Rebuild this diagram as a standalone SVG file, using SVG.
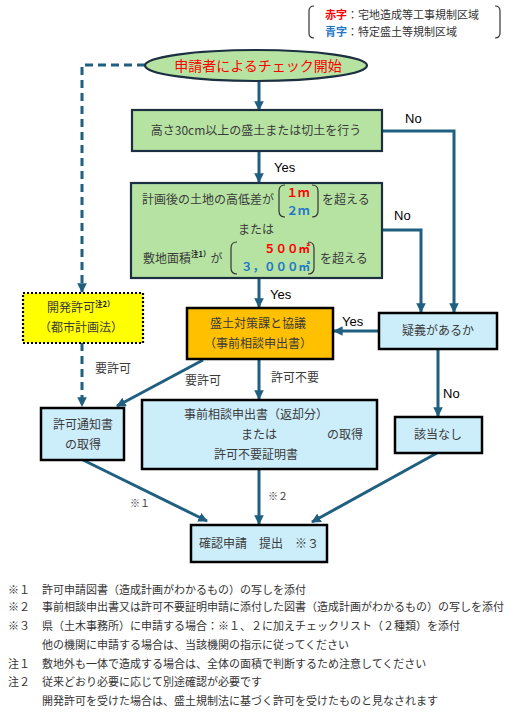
<svg xmlns="http://www.w3.org/2000/svg" width="522" height="717" viewBox="0 0 522 717">
<defs>
<marker id="ah" viewBox="0 0 10 10" refX="9" refY="5" markerWidth="3.2" markerHeight="3.2" orient="auto" markerUnits="strokeWidth">
<path d="M0,0 L10,5 L0,10 Z" fill="#1F5F80"/>
</marker>
<style>
text{font-family:"Noto Sans CJK JP","Noto Sans",sans-serif;fill:#3a3a3a;font-size:12px}
.lat{font-family:"Liberation Sans",Arial,sans-serif;fill:#000;font-size:13px}
.c{text-anchor:middle}
.e{text-anchor:end}
.red{fill:#FF0000}
.blue{fill:#1F77C8}
.b{font-weight:bold}
.sup{font-size:7.5px;font-weight:bold;fill:#222}
.fn{font-size:11px;fill:#333}
.leg{font-size:11px;fill:#333}
.num{font-size:11.5px;font-weight:bold}
.ttl{font-size:14px}
.sm{font-size:10px}
.green{fill:#B6E3A2;stroke:#1B2F40;stroke-width:2.2}
.lb{fill:#CCEEFB;stroke:#000;stroke-width:2.5}
.ln{fill:none;stroke:#1F5F80;stroke-width:3}
.ar{marker-end:url(#ah)}
.dash{stroke-dasharray:8,5}
.br{fill:none;stroke:#333;stroke-width:1.2}
</style>
</defs>
<rect width="522" height="717" fill="#fff"/>

<g id="legend">
<path class="br" d="M314,6 Q309,6 309,11 L309,33 Q309,38 314,38"/>
<path class="br" d="M495,6 Q500,6 500,11 L500,33 Q500,38 495,38"/>
<text class="leg" x="325" y="19"><tspan class="red b">赤字</tspan>：宅地造成等工事規制区域</text>
<text class="leg" x="325" y="36"><tspan class="blue b">青字</tspan>：特定盛土等規制区域</text>
</g>

<g id="connectors">
<path class="ln dash ar" d="M145,65 L82,65 L82,292"/>
<path class="ln ar" d="M259,81 L259,110"/>
<path class="ln ar" d="M382,131 L454,131 L454,312"/>
<path class="ln ar" d="M259,151 L259,182"/>
<path class="ln ar" d="M382,230 L421,230 L421,312"/>
<path class="ln ar" d="M259,278 L259,307"/>
<path class="ln ar" d="M379,331 L334,331"/>
<path class="ln ar" d="M438,349 L438,416"/>
<path class="ln dash ar" d="M82,343 L82,406"/>
<path class="ln ar" d="M203,360 L117,406"/>
<path class="ln ar" d="M259,359 L259,399"/>
<path class="ln ar" d="M83,460 L207,521"/>
<path class="ln ar" d="M259,469 L259,524"/>
<path class="ln ar" d="M437,453 L312,522"/>
<text class="lat" x="405" y="123">No</text>
<text class="lat" x="274" y="172">Yes</text>
<text class="lat" x="394" y="220">No</text>
<text class="lat" x="270" y="299">Yes</text>
<text class="lat" x="342" y="326">Yes</text>
<text class="lat" x="443" y="398">No</text>
<text x="95" y="373">要許可</text>
<text x="185" y="385">要許可</text>
<text x="271" y="382">許可不要</text>
<text class="sm" x="130" y="507">※１</text>
<text class="sm" x="268" y="500">※２</text>
</g>

<g id="start">
<ellipse cx="256" cy="65.5" rx="111" ry="15.5" class="green" stroke-width="1.8"/>
<text class="c red ttl" x="258" y="70.5">申請者によるチェック開始</text>
</g>

<g id="q1">
<rect x="132" y="110" width="250" height="41" class="green"/>
<text class="c" x="256" y="135">高さ30cm以上の盛土または切土を行う</text>
</g>

<g id="q2">
<rect x="131" y="183" width="251" height="95" class="green"/>
<text x="142" y="204">計画後の土地の高低差が</text>
<path class="br" d="M285,185 Q279,185 279,191 L279,211 Q279,217 285,217"/>
<text class="c red num" x="298" y="197">１ｍ</text>
<text class="c blue num" x="298" y="215">２ｍ</text>
<path class="br" d="M312,185 Q318,185 318,191 L318,211 Q318,217 312,217"/>
<text x="322" y="204">を超える</text>
<text class="c" x="256" y="234">または</text>
<text x="143" y="263">敷地面積<tspan class="sup" dy="-6">注1）</tspan><tspan dy="6">が</tspan></text>
<path class="br" d="M237,242 Q231,242 231,248 L231,268 Q231,274 237,274"/>
<text class="e red num" x="310" y="253">５００㎡</text>
<text class="e blue num" x="310" y="271">３，０００㎡</text>
<path class="br" d="M308,242 Q314,242 314,248 L314,268 Q314,274 308,274"/>
<text x="320" y="263">を超える</text>
</g>

<g id="kaihatsu">
<rect x="23" y="293" width="120" height="50" fill="#FFFF00" stroke="#000" stroke-width="2.2" stroke-dasharray="2,2"/>
<text x="47" y="312" fill="#555">開発許可<tspan class="sup" dy="-5">注2）</tspan></text>
<text class="c" x="81" y="332" fill="#555">（都市計画法）</text>
</g>

<g id="kyougi">
<rect x="187" y="308" width="146" height="51" fill="#FFC000" stroke="#000" stroke-width="2.5"/>
<text class="c" x="258" y="328">盛土対策課と協議</text>
<text class="c" x="258" y="348">（事前相談申出書）</text>
</g>

<g id="gigi">
<rect x="379" y="313" width="118" height="36" class="lb"/>
<text class="c" x="438" y="335">疑義があるか</text>
</g>

<g id="tsuchisho">
<rect x="41" y="408" width="83" height="52" class="lb"/>
<text class="c" x="83" y="429">許可通知書</text>
<text class="c" x="83" y="449">の取得</text>
</g>

<g id="jizen">
<rect x="142" y="400" width="235" height="69" class="lb"/>
<text class="c" x="256" y="419">事前相談申出書（返却分）</text>
<text class="c" x="259" y="439">または</text>
<text x="327" y="439">の取得</text>
<text class="c" x="256" y="459">許可不要証明書</text>
</g>

<g id="gaitou">
<rect x="395" y="417" width="87" height="36" class="lb"/>
<text class="c" x="438" y="439">該当なし</text>
</g>

<g id="kakunin">
<rect x="191" y="525" width="136" height="37" class="lb"/>
<text class="c" x="259" y="548">確認申請　提出　※３</text>
</g>

<g id="notes">
<text class="fn" x="8" y="594">※１</text>
<text class="fn" x="42" y="594">許可申請図書（造成計画がわかるもの）の写しを添付</text>
<text class="fn" x="8" y="611">※２</text>
<text class="fn" x="42" y="611">事前相談申出書又は許可不要証明申請に添付した図書（造成計画がわかるもの）の写しを添付</text>
<text class="fn" x="8" y="630">※３</text>
<text class="fn" x="42" y="630">県（土木事務所）に申請する場合：※１、２に加えチェックリスト（２種類）を添付</text>
<text class="fn" x="42" y="649">他の機関に申請する場合は、当該機関の指示に従ってください</text>
<text class="fn" x="8" y="668">注１</text>
<text class="fn" x="42" y="668">敷地外も一体で造成する場合は、全体の面積で判断するため注意してください</text>
<text class="fn" x="8" y="686">注２</text>
<text class="fn" x="42" y="686">従来どおり必要に応じて別途確認が必要です</text>
<text class="fn" x="42" y="705">開発許可を受けた場合は、盛土規制法に基づく許可を受けたものと見なされます</text>
</g>
</svg>
